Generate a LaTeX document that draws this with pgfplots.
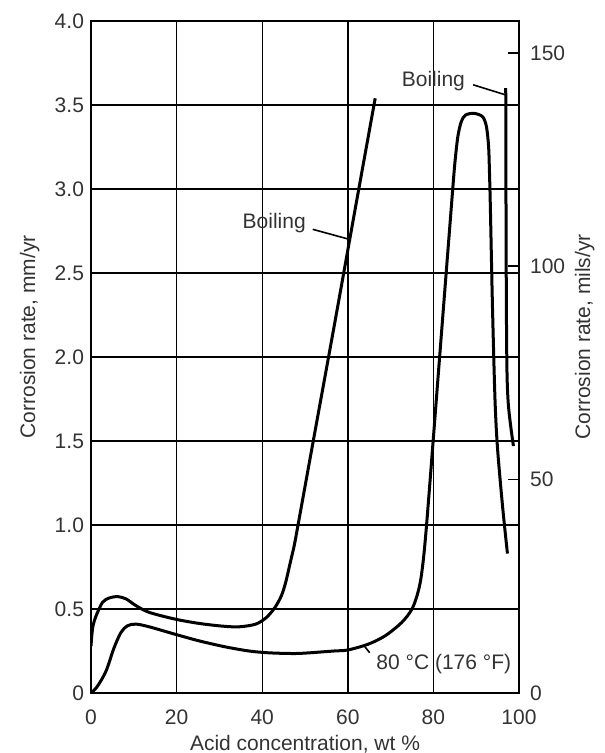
\documentclass[border=0pt]{standalone}
\usepackage{fontspec}
\setmainfont{Liberation Sans}
\usepackage{pgfplots}
\pgfplotsset{compat=1.18}
\definecolor{txt}{gray}{0.2}

\begin{document}
\begin{tikzpicture}
\useasboundingbox (-45.5pt,-30pt) rectangle (256.5pt,346.5pt);
\pgfplotsset{
  every axis/.append style={
    font=\fontsize{10.5}{12}\selectfont,
    scale only axis, width=214pt, height=336pt,
    xmin=0, xmax=100,
    /pgf/number format/assume math mode=true,
    tick label style={text=txt},
    label style={text=txt},
  },
}
\begin{axis}[
  ymin=0, ymax=4,
  xtick={0,20,40,60,80,100},
  ytick={0,0.5,1,1.5,2,2.5,3,3.5,4},
  yticklabels={0,0.5,1.0,1.5,2.0,2.5,3.0,3.5,4.0},
  grid=major,
  major grid style={black, line width=0.7pt},
  axis line style={line width=0.9pt},
  tick style={draw=none},
  x tick label style={yshift=-5pt},
  xlabel={Acid concentration, wt \%},
  xlabel style={at={(axis description cs:0.5,0)}, anchor=base, yshift=-28.5pt},
  ylabel={Corrosion rate, mm/yr},
  ylabel style={at={(axis description cs:-0.1308,0.53)}, anchor=base, rotate=0},
]
% boiling, low concentrations
\addplot[black, line width=1.5pt, smooth, tension=0.5, line join=round] coordinates {
  (0,0.28)(0.4,0.39)(1.2,0.46)(2.7,0.54)(4.3,0.566)(6.2,0.574)(8.2,0.56)
  (10.5,0.52)(13.6,0.48)(19.6,0.44)(25.3,0.414)(30.7,0.398)(34.6,0.394)
  (38.5,0.41)(41,0.45)(43,0.51)(44.5,0.58)(45.5,0.66)(46.5,0.77)(47.5,0.88)
  (48.3,0.99)(52,1.51)(57,2.21)(62,2.92)(66.4,3.54)
};
% 80 C
\addplot[black, line width=1.5pt, smooth, tension=0.5, line join=round] coordinates {
  (0,0)(1.5,0.04)(3.5,0.13)(5.4,0.27)(7,0.36)(8.5,0.40)(10.5,0.41)(13.6,0.394)
  (19.6,0.35)(25.3,0.31)(31.5,0.274)(36.9,0.25)(41,0.24)(45,0.236)(49,0.236)
  (56.8,0.25)(60,0.256)(64.7,0.29)(68.7,0.34)(72.6,0.42)(75,0.5)(76.4,0.6)
  (77.3,0.72)(78.4,1.0)(81.3,1.95)(84.3,2.93)(85.0,3.15)(85.7,3.31)(86.5,3.40)
  (87.5,3.44)(89.5,3.45)(91.5,3.43)(92.4,3.37)(92.9,3.25)(93.1,3.1)(93.3,2.9)
  (93.8,2.3)(94.4,1.74)(95.0,1.45)(96.2,1.1)(97.3,0.83)
};
% boiling, high concentrations
\addplot[black, line width=1.5pt, smooth, tension=0.5, line join=round] coordinates {
  (96.9,3.60)(96.95,3.0)(97.05,2.3)(97.2,1.9)(97.5,1.72)(98.1,1.58)(98.7,1.47)
};
% leaders
\addplot[black, line width=0.8pt] coordinates {(51.8,2.76)(60.4,2.70)};
\addplot[black, line width=0.8pt] coordinates {(89.3,3.62)(96.9,3.56)};
\addplot[black, line width=0.8pt] coordinates {(64.0,0.275)(65.1,0.24)};
\node[text=txt, anchor=center] at (axis cs:42.8,2.80) {Boiling};
\node[text=txt, anchor=center] at (axis cs:80,3.64) {Boiling};
\node[text=txt, anchor=west, inner sep=0pt] at (axis cs:66.6,0.17) {80 °C (176 °F)};
\end{axis}
\begin{axis}[
  ymin=0, ymax=157.48,
  axis x line=none,
  axis y line*=right,
  axis line style={line width=0.9pt},
  ytick={0,50,100,150},
  tick align=inside,
  major tick length=5.5pt,
  tick style={black, line width=0.8pt},
  y tick label style={xshift=2pt},
  ylabel={Corrosion rate, mils/yr},
  ylabel style={at={(axis description cs:1.166,0.53)}, anchor=base, rotate=0},
]
\end{axis}
\end{tikzpicture}
\end{document}
